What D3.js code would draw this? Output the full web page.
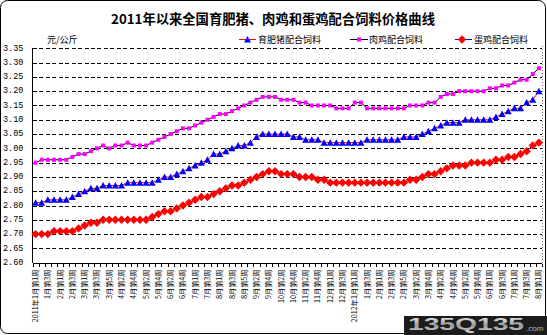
<!DOCTYPE html>
<html>
<head>
<meta charset="utf-8">
<script src="https://cdn.jsdelivr.net/npm/d3@7/dist/d3.min.js"></script>
<style>
  html, body { margin: 0; padding: 0; background: #fff; }
  svg { display: block; }
</style>
</head>
<body>
<svg id="chart" width="547" height="335"></svg>
<script>
// Weekly categories (every second one is labelled on the axis)
const categories = [
  "2011年1月第1周","1月第2周","1月第3周","1月第4周","2月第1周","2月第2周","2月第3周","2月第4周",
  "3月第1周","3月第2周","3月第3周","3月第4周","3月第5周","4月第1周","4月第2周","4月第3周",
  "4月第4周","5月第1周","5月第2周","5月第3周","5月第4周","6月第1周","6月第2周","6月第3周",
  "6月第4周","6月第5周","7月第1周","7月第2周","7月第3周","7月第4周","8月第1周","8月第2周",
  "8月第3周","8月第4周","8月第5周","9月第1周","9月第2周","9月第3周","9月第4周","10月第1周",
  "10月第2周","10月第3周","10月第4周","11月第1周","11月第2周","11月第3周","11月第4周","11月第5周",
  "12月第1周","12月第2周","12月第3周","12月第4周","2012年1月第1周","1月第2周","1月第3周","1月第4周",
  "2月第1周","2月第2周","2月第3周","2月第4周","2月第5周","3月第1周","3月第2周","3月第3周",
  "3月第4周","4月第1周","4月第2周","4月第3周","4月第4周","5月第1周","5月第2周","5月第3周",
  "5月第4周","5月第5周","6月第1周","6月第2周","6月第3周","6月第4周","7月第1周","7月第2周",
  "7月第3周","7月第4周","8月第1周"
];

// 育肥猪配合饲料 (元/公斤)
const pigFeed = [
  2.81,2.81,2.82,2.82,2.82,2.82,2.83,2.84,2.85,2.86,2.86,2.87,2.87,2.87,2.87,2.88,
  2.88,2.88,2.88,2.88,2.89,2.90,2.90,2.91,2.92,2.93,2.94,2.95,2.96,2.98,2.98,2.99,
  3.00,3.01,3.01,3.02,3.04,3.05,3.05,3.05,3.05,3.05,3.04,3.04,3.03,3.03,3.03,3.02,
  3.02,3.02,3.02,3.02,3.02,3.02,3.03,3.03,3.03,3.03,3.03,3.03,3.04,3.04,3.04,3.05,
  3.06,3.07,3.08,3.09,3.09,3.09,3.10,3.10,3.10,3.10,3.10,3.11,3.12,3.13,3.14,3.14,
  3.16,3.17,3.20
];

// 肉鸡配合饲料 (元/公斤)
const broilerFeed = [
  2.95,2.96,2.96,2.96,2.96,2.96,2.97,2.98,2.98,2.99,3.00,3.01,3.00,3.01,3.01,3.02,
  3.01,3.01,3.01,3.02,3.03,3.04,3.05,3.06,3.07,3.07,3.08,3.09,3.10,3.11,3.12,3.12,
  3.13,3.14,3.15,3.16,3.17,3.18,3.18,3.18,3.17,3.17,3.17,3.16,3.16,3.15,3.15,3.15,
  3.15,3.14,3.14,3.14,3.16,3.16,3.14,3.14,3.14,3.14,3.14,3.14,3.14,3.15,3.15,3.15,
  3.16,3.16,3.18,3.19,3.19,3.20,3.20,3.20,3.20,3.20,3.21,3.21,3.22,3.22,3.23,3.24,
  3.24,3.26,3.28
];

// 蛋鸡配合饲料 (元/公斤)
const layerFeed = [
  2.70,2.70,2.70,2.71,2.71,2.71,2.71,2.72,2.73,2.74,2.74,2.75,2.75,2.75,2.75,2.75,
  2.75,2.75,2.75,2.76,2.77,2.78,2.78,2.79,2.80,2.81,2.82,2.83,2.83,2.84,2.85,2.86,
  2.87,2.87,2.88,2.89,2.90,2.91,2.92,2.92,2.91,2.91,2.91,2.90,2.90,2.90,2.89,2.89,
  2.88,2.88,2.88,2.88,2.88,2.88,2.88,2.88,2.88,2.88,2.88,2.88,2.88,2.89,2.89,2.90,
  2.91,2.91,2.92,2.93,2.94,2.94,2.94,2.95,2.95,2.95,2.95,2.96,2.96,2.97,2.97,2.98,
  2.99,3.01,3.02
];

const yTickValues = [2.60,2.65,2.70,2.75,2.80,2.85,2.90,2.95,3.00,3.05,3.10,3.15,3.20,3.25,3.30,3.35];
const yTickLabels = ["2.60","2.65","2.70","2.75","2.80","2.85","2.90","2.95","3.00","3.05","3.10","3.15","3.20","3.25","3.30","3.35"];

const titleText = "2011年以来全国育肥猪、肉鸡和蛋鸡配合饲料价格曲线";
const unitText = "元/公斤";
const seriesNames = ["育肥猪配合饲料", "肉鸡配合饲料", "蛋鸡配合饲料"];

const CJK = '"Noto Sans CJK SC", "Noto Sans", sans-serif';

const svg = d3.select("#chart");

// plot frame
const plotL = 32.5, plotR = 542, plotT = 48.3, plotB = 262.7;

const x = d3.scaleBand()
  .domain(d3.range(categories.length))
  .range([plotL, plotR])
  .paddingInner(0).paddingOuter(0);
const cx = i => x(i) + x.bandwidth() / 2;

const y = d3.scaleLinear().domain([2.60, 3.35]).range([plotB, plotT]);

// outer rounded frame
svg.append("rect")
  .attr("x", 0.5).attr("y", 0.5)
  .attr("width", 545).attr("height", 333)
  .attr("rx", 7).attr("ry", 7)
  .attr("fill", "#fff").attr("stroke", "#000").attr("stroke-width", 1);

// title
svg.append("text")
  .attr("x", 273).attr("y", 24)
  .attr("text-anchor", "middle")
  .attr("font-family", CJK).attr("font-weight", "bold")
  .attr("font-size", 13.3)
  .text(titleText);

// unit
svg.append("text")
  .attr("x", 47).attr("y", 43)
  .attr("font-family", CJK).attr("font-size", 9)
  .text(unitText);

// horizontal dashed gridlines
const grid = svg.append("g");
grid.selectAll("line")
  .data(yTickValues.filter(v => v > 2.6))
  .join("line")
  .attr("x1", plotL).attr("x2", plotR)
  .attr("y1", d => Math.round(y(d)) + 0.5)
  .attr("y2", d => Math.round(y(d)) + 0.5)
  .attr("stroke", "#000").attr("stroke-width", 1)
  .attr("stroke-dasharray", "4,2.5")
  .attr("shape-rendering", "crispEdges");

// right dotted border of plot
svg.append("line")
  .attr("x1", plotR + 0.5).attr("x2", plotR + 0.5)
  .attr("y1", plotT - 2).attr("y2", plotB)
  .attr("stroke", "#777").attr("stroke-dasharray", "1,2")
  .attr("shape-rendering", "crispEdges");

// y axis (labels at far left)
const yAxis = d3.axisLeft(y)
  .tickValues(yTickValues)
  .tickFormat((d, i) => yTickLabels[i])
  .tickSize(0);
const gy = svg.append("g")
  .attr("transform", `translate(${plotL},0)`)
  .call(yAxis);
gy.select(".domain")
  .attr("d", `M0,${plotT}V${plotB}`)
  .attr("stroke", "#000").attr("shape-rendering", "crispEdges");
gy.selectAll(".tick text")
  .attr("x", 3 - plotL)
  .attr("text-anchor", "start")
  .attr("dy", "0.2em")
  .attr("font-family", '"Liberation Mono", "DejaVu Sans Mono", monospace')
  .attr("font-size", 8.5)
  .attr("fill", "#000");

// x axis: category ticks, every second label
const xAxis = d3.axisBottom(x)
  .tickValues(d3.range(0, categories.length, 2))
  .tickFormat(i => categories[i])
  .tickSize(0);
const gx = svg.append("g")
  .attr("transform", `translate(0,${Math.round(plotB) + 0.5})`)
  .call(xAxis);
gx.select(".domain")
  .attr("d", `M${plotL},0H${plotR}`)
  .attr("stroke", "#000").attr("shape-rendering", "crispEdges");
gx.selectAll(".tick text")
  .attr("transform", "rotate(-90)")
  .attr("x", -6).attr("y", 0)
  .attr("dy", "0.35em")
  .attr("text-anchor", "end")
  .attr("font-family", CJK)
  .attr("font-size", 7.2)
  .attr("fill", "#000");
// small tick marks at category boundaries
gx.append("g").selectAll("line")
  .data(d3.range(categories.length + 1))
  .join("line")
  .attr("x1", i => Math.round(plotL + i * x.bandwidth()) + 0.5)
  .attr("x2", i => Math.round(plotL + i * x.bandwidth()) + 0.5)
  .attr("y1", 0).attr("y2", 3)
  .attr("stroke", "#000").attr("shape-rendering", "crispEdges");

// marker shapes
const triPath = (px, py) => `M${px - 3.5},${py + 3}L${px},${py - 3.5}L${px + 3.5},${py + 3}Z`;
const diaPath = (px, py) => `M${px},${py - 4.2}L${px + 4.2},${py}L${px},${py + 4.2}L${px - 4.2},${py}Z`;
const sqPath = (px, py) => `M${px - 2},${py - 2}h4v4h-4Z`;

const series = [
  { name: seriesNames[0], values: pigFeed, line: "#ff0000", fill: "#0000ff", shape: triPath },
  { name: seriesNames[1], values: broilerFeed, line: "#000000", fill: "#ff00ff", shape: sqPath },
  { name: seriesNames[2], values: layerFeed, line: "#0000ff", fill: "#ff0000", shape: diaPath }
];

const lineGen = d3.line().x((d, i) => cx(i)).y(d => y(d));

series.forEach(s => {
  const g = svg.append("g");
  g.append("path")
    .attr("d", lineGen(s.values))
    .attr("fill", "none").attr("stroke", s.line).attr("stroke-width", 1);
  g.selectAll("path.mk")
    .data(s.values)
    .join("path")
    .attr("class", "mk")
    .attr("d", (d, i) => s.shape(cx(i), y(d)))
    .attr("fill", s.fill);
});

// legend
const legendItems = [
  { x0: 239, x1: 256, mx: 247.5, tx: 258 },
  { x0: 350, x1: 368, mx: 359, tx: 369 },
  { x0: 455, x1: 472, mx: 462, tx: 474 }
];
const ly = 39.5;
const lg = svg.append("g");
series.forEach((s, k) => {
  const it = legendItems[k];
  lg.append("line")
    .attr("x1", it.x0).attr("x2", it.x1)
    .attr("y1", ly).attr("y2", ly)
    .attr("stroke", s.line).attr("stroke-width", 1);
  lg.append("path").attr("d", s.shape(it.mx, ly)).attr("fill", s.fill);
  lg.append("text")
    .attr("x", it.tx).attr("y", ly + 3.5)
    .attr("font-family", CJK).attr("font-size", 9)
    .text(s.name);
});

// site mark in the lower right corner
const wm = svg.append("g");
const grad = svg.append("defs").append("linearGradient")
  .attr("id", "wmg").attr("x1", 0).attr("x2", 0).attr("y1", 0).attr("y2", 1);
grad.append("stop").attr("offset", "0%").attr("stop-color", "#f4f4f4");
grad.append("stop").attr("offset", "55%").attr("stop-color", "#9a9a9a");
grad.append("stop").attr("offset", "100%").attr("stop-color", "#dcdcdc");
wm.append("rect")
  .attr("x", 404).attr("y", 316).attr("width", 143).attr("height", 19)
  .attr("fill", "#1c1c1c");
wm.append("text")
  .attr("x", 408).attr("y", 330)
  .attr("font-family", '"Liberation Sans", Arial, sans-serif')
  .attr("font-weight", "bold").attr("font-size", 17)
  .attr("textLength", 116)
  .attr("lengthAdjust", "spacingAndGlyphs")
  .attr("fill", "url(#wmg)")
  .text("135Q135");
wm.append("text")
  .attr("x", 526).attr("y", 331)
  .attr("font-family", '"Liberation Sans", Arial, sans-serif')
  .attr("font-style", "italic").attr("font-size", 8)
  .attr("fill", "#bbb")
  .text(".com");
</script>
</body>
</html>
